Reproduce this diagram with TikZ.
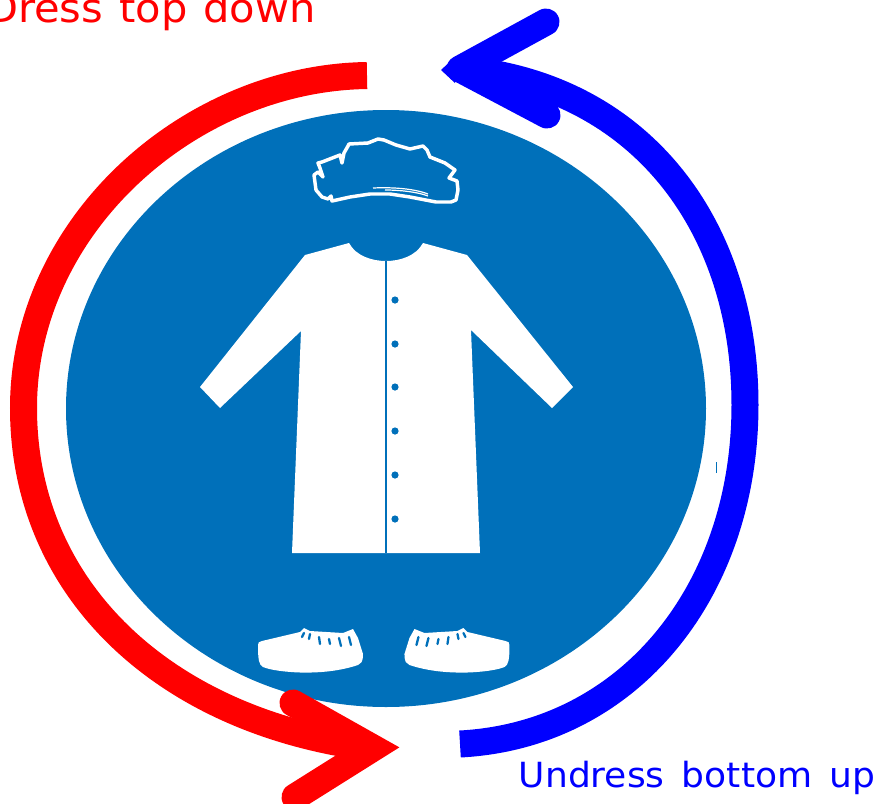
\documentclass[tikz,border=0pt]{standalone}
\usepackage{fontspec}
\setmainfont{DejaVu Sans}
\newfontfamily\capfont[FakeStretch=1.04]{DejaVu Sans}
\definecolor{signblue}{HTML}{0070BA}
\definecolor{arcred}{HTML}{FF0000}
\definecolor{arcblue}{HTML}{0000FF}
\newcommand{\shoeshape}{%
  \fill[white] (258,645) .. controls (258,642) and (259,642) .. (262,641) -- (300,632) -- (304,628) -- (310,631) -- (343,633) -- (353,629) -- (358,638) -- (363,654) .. controls (363,662) and (361,664) .. (358,665) .. controls (340,671) and (320,673) .. (300,672.5) .. controls (285,672) and (270,670) .. (263,667) .. controls (259,665) and (258,660) .. (258,645) -- cycle;
  \draw[lace] (304,633) -- (302,637);
  \draw[lace] (310,634) -- (309,639);
  \draw[lace] (319,637) -- (320,644);
  \draw[lace] (329,639) -- (330,644);
  \draw[lace] (339,638) -- (341,646);
  \draw[lace] (349,637) -- (351,645);
}
\tikzset{
  x=0.75pt,y=-0.75pt,
  band/.style={line width=20.25pt,line cap=butt},
  head/.style={line width=20.25pt,line cap=round},
  lace/.style={draw=signblue,line width=1.7pt,line cap=round},
  caption/.style={inner sep=0pt},
}
\begin{document}
\begin{tikzpicture}
\useasboundingbox (0,0) rectangle (876,804);
\clip (0,0) rectangle (876,804);
% sign
\fill[signblue] (386,408.5) ellipse [x radius=320,y radius=298.5];
% coat
\fill[white] (200,387) -- (305,255) -- (349,243) .. controls (356,256) and (372,261) .. (386,261) .. controls (400,261) and (416,256) .. (423,243) -- (467,255) -- (573,387) -- (552,408) -- (471,330) -- (480,553) -- (292,553) -- (301,331) -- (220,408) -- cycle;
\draw[signblue,line width=1.6pt] (386,261) -- (386,553);
\foreach \by in {300,344,387,431,475,519}
  \fill[signblue] (395,\by) circle [radius=3.6];
% cap
\draw[white,line width=2.6pt,line join=round,fill=none]
  (314,175) -- (318,172) -- (323,177) -- (320,168) -- (318,163) -- (322,162) -- (340,155) -- (342,163) -- (344,153) -- (348,146) -- (349,144) -- (368,143) -- (378,139) -- (384,140) -- (396,145) -- (410,149) -- (423,146) -- (427,150) -- (430,157) -- (445,163) -- (455,170) -- (449,178) -- (457,181) -- (458,190) -- (456,200) -- (451,202) -- (436,202) -- (410,197) -- (390,194) -- (370,194) -- (350,197) -- (332,201) -- (331,196) -- (328,199) -- (322,197) -- (316,190) -- cycle;
\draw[white,line width=0.9pt] (373,188) .. controls (395,187) and (415,189) .. (428,194);
\draw[white,line width=0.9pt] (385,190) .. controls (400,190) and (418,192) .. (428,196);
% shoes
\shoeshape
\begin{scope}[xshift=575.6pt,xscale=-1]
\shoeshape
\end{scope}
\fill[signblue] (715.5,462) rectangle (717,473);
% red arc
\draw[arcred,band] (367,75.5) .. controls (190,78) and (23.5,225) .. (23.5,408) .. controls (23.5,590) and (165,722) .. (373,748);
\draw[arcred,head,line join=miter] (293,703) -- (373,748) -- (295,797);
% blue arc
\draw[arcblue,band] (460,744) .. controls (630,735) and (745,590) .. (745,405) .. controls (745,225) and (640,85) .. (460,69);
\draw[arcblue,head,line join=round] (546,22) -- (460,69) -- (547,115);
\fill[arcblue] (441,70) -- (455,57) -- (455,83) -- cycle;
% captions
\node[caption,text=arcblue,anchor=base west,font=\capfont\fontsize{26}{30}\selectfont] (undress) at (518.5,787) {\spaceskip=13pt Undress bottom up};
\node[caption,text=arcred,anchor=base east,font=\capfont\fontsize{30}{34}\selectfont] (dress) at (316,22) {\spaceskip=12pt Dress top down};
\end{tikzpicture}
\end{document}
